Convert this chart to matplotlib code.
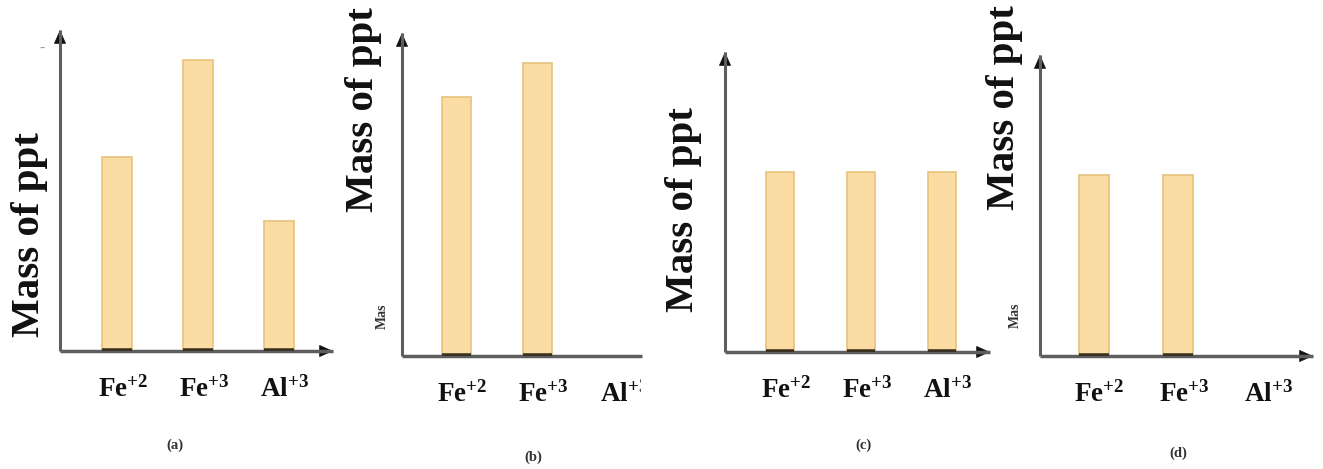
import matplotlib
matplotlib.use('Agg')
import matplotlib.pyplot as plt
from matplotlib.transforms import offset_copy
from matplotlib.patches import Rectangle

W, H = 1323, 469
plt.rcParams['font.family'] = ['Liberation Serif', 'DejaVu Serif']
plt.rcParams['mathtext.fontset'] = 'custom'
plt.rcParams['mathtext.bf'] = 'Liberation Serif:bold'
plt.rcParams['mathtext.rm'] = 'Liberation Serif:bold'

# ---- data ----
ions = ['Fe', 'Fe', 'Al']
charges = ['+2', '+3', '+3']
mass_a = [1.94, 2.91, 1.30]
mass_b = [2.59, 2.93, 0.0]
mass_c = [1.80, 1.80, 1.80]
mass_d = [1.81, 1.81, 0.0]
panel_names = ['(a)', '(b)', '(c)', '(d)']
ylabel = 'Mass of ppt'

# ---- layout (pixels) ----
layouts = [
    dict(x0=60, x1=333, y0=351, y1=30, c0=117, s=81, w=30, xarrow=True,
         ylab=(30, 235), sub=(175, 445), small=None),
    dict(x0=402, x1=642, y0=356, y1=33, c0=456.5, s=81, w=29, xarrow=False,
         ylab=(364, 110), sub=(533, 457), small=(382, 316)),
    dict(x0=725, x1=990, y0=352, y1=52, c0=780, s=81, w=28, xarrow=True,
         ylab=(684, 210), sub=(863, 445), small=None),
    dict(x0=1040, x1=1313, y0=356, y1=55, c0=1093.5, s=84.5, w=30, xarrow=True,
         ylab=(1004, 108), sub=(1178, 453), small=(1015, 315)),
]
series = [mass_a, mass_b, mass_c, mass_d]

fill = '#FBDCA2'
edge = '#E8C27C'
axis_col = '#5e5e5e'
head_col = '#111111'

fig = plt.figure(figsize=(W / 100, H / 100), dpi=100)
fig.patch.set_facecolor('white')

for L, vals, name in zip(layouts, series, panel_names):
    ax = fig.add_axes([L['x0'] / W, 1 - L['y0'] / H,
                       (L['x1'] - L['x0']) / W, (L['y0'] - L['y1']) / H])
    ax.set_xlim((L['x0'] - L['c0']) / L['s'], (L['x1'] - L['c0']) / L['s'])
    ax.set_ylim(0, (L['y0'] - L['y1']) / 100)
    for sp in ax.spines.values():
        sp.set_visible(False)
    ax.set_xticks([])
    ax.set_yticks([])
    ax.patch.set_alpha(0)

    bw = L['w'] / L['s']
    xs = list(range(len(ions)))
    ax.bar(xs, vals, width=bw, color=fill, edgecolor=edge, linewidth=1.2, zorder=2)
    for x, v in zip(xs, vals):
        if v > 0:
            ax.hlines(0, x - bw / 2, x + bw / 2, color='#3a3220', lw=4, zorder=5)

    # axis lines
    ax.plot([0, 0], [0, 1], color=axis_col, lw=2.2, transform=ax.transAxes,
            clip_on=False, zorder=4, solid_capstyle='butt')
    ax.plot([0, 1], [0, 0], color=axis_col, lw=2.5, transform=ax.transAxes,
            clip_on=False, zorder=4, solid_capstyle='butt')
    # arrow heads
    hp = dict(arrowstyle='-|>,head_length=0.9,head_width=0.4', color=head_col,
              lw=0.5, shrinkA=0, shrinkB=0, mutation_scale=10)
    ax.annotate('', xy=(0, 1), xycoords='axes fraction', xytext=(0, -9),
                textcoords='offset points', arrowprops=hp, annotation_clip=False)
    if L['xarrow']:
        ax.annotate('', xy=(1, 0), xycoords='axes fraction', xytext=(-9, 0),
                    textcoords='offset points', arrowprops=hp, annotation_clip=False)

    tr = offset_copy(ax.transData, fig=fig, x=6, y=-46, units='dots')
    for x, ion, ch in zip(xs, ions, charges):
        ax.text(x, 0, r'$\mathbf{%s^{%s}}$' % (ion, ch), transform=tr,
                ha='center', va='baseline', fontsize=19.5, color='#111')

    fig.text(L['ylab'][0] / W, 1 - L['ylab'][1] / H, ylabel, rotation=90,
             ha='center', va='center', fontsize=29.5, fontweight='bold', color='#111')
    fig.text(L['sub'][0] / W, 1 - L['sub'][1] / H, name, ha='center', va='center',
             fontsize=10.5, fontweight='bold', color='#333')
    if L['small'] is not None:
        fig.text(L['small'][0] / W, 1 - L['small'][1] / H, 'Mas', rotation=90,
                 ha='center', va='center', fontsize=10, fontweight='bold', color='#333')

fig.text(42 / W, 1 - 48 / H, '-', fontsize=11, color='#999', ha='center', va='center')

# panel (b) is cropped on its right side
fig.add_artist(Rectangle((641 / W, 1 - 418 / H), 24 / W, 50 / H,
                         transform=fig.transFigure, color='white', zorder=10))

fig.savefig('out.png', dpi=100, facecolor='white')
